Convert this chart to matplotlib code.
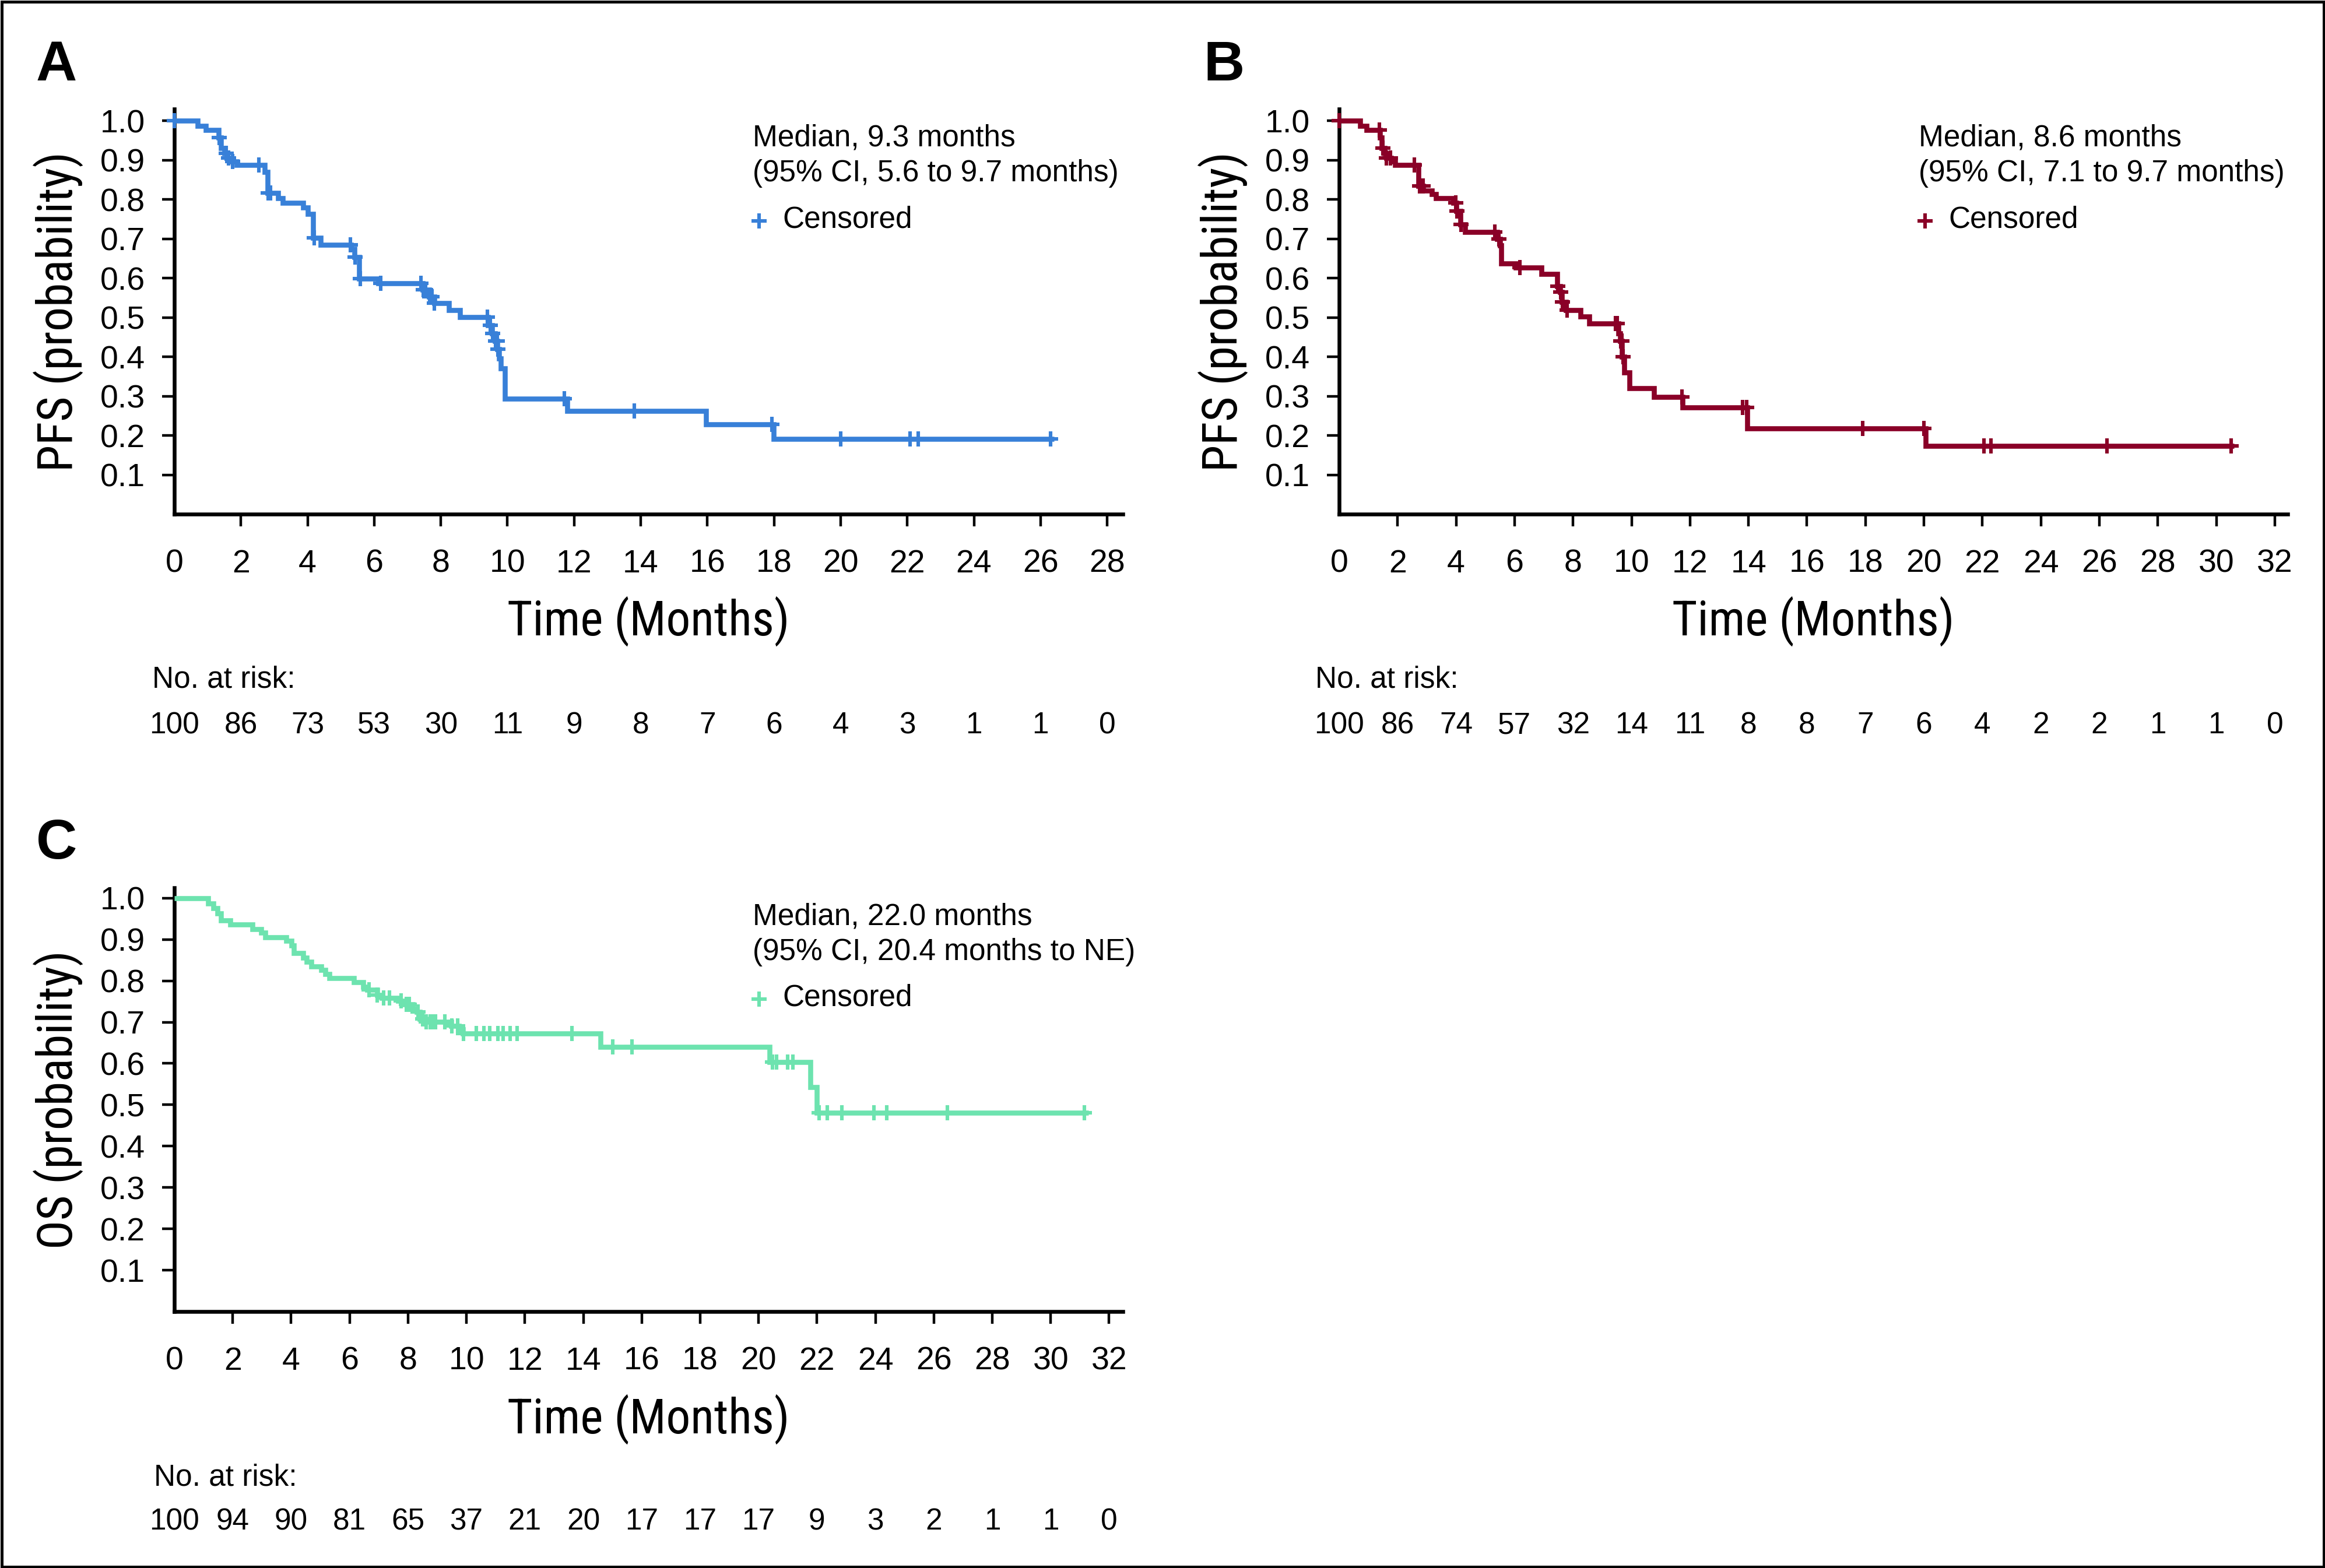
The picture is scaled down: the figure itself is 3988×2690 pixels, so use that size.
import numpy as np
import matplotlib
matplotlib.use("Agg")
import matplotlib.pyplot as plt
from matplotlib import font_manager as fm
from matplotlib.lines import Line2D
from matplotlib.patches import Rectangle
from matplotlib.transforms import blended_transform_factory

# ---------------- data ----------------
a_event_t = [0.70, 0.95, 1.33, 1.40, 1.50, 1.57, 1.72, 1.88, 2.72, 2.80, 3.12, 3.26, 3.86, 4.00,
             4.16, 4.40, 5.30, 5.40, 5.55, 6.12, 7.45, 7.65, 7.80, 8.25, 8.58, 9.42, 9.53, 9.63,
             9.70, 9.75, 9.80, 9.92, 11.80, 15.96, 17.98]
a_surv = [0.987, 0.977, 0.957, 0.930, 0.918, 0.906, 0.897, 0.887, 0.870, 0.817, 0.803, 0.791,
          0.780, 0.763, 0.703, 0.685, 0.675, 0.654, 0.598, 0.587, 0.570, 0.553, 0.536, 0.519,
          0.501, 0.480, 0.460, 0.440, 0.420, 0.396, 0.371, 0.294, 0.263, 0.228, 0.191]
a_censor = [0.0, 1.35, 1.56, 1.62, 1.75, 2.54, 2.82, 2.89, 4.20, 5.29, 5.42, 5.58, 6.20, 7.40,
            7.48, 7.54, 7.66, 7.74, 7.81, 9.39, 9.49, 9.55, 9.65, 9.69, 9.72, 11.70, 13.80,
            17.93, 20.00, 22.08, 22.33, 26.30]
a_end = 26.40
a_risk = [100, 86, 73, 53, 30, 11, 9, 8, 7, 6, 4, 3, 1, 1, 0]

b_event_t = [0.715, 0.93, 1.39, 1.45, 1.55, 1.62, 1.77, 1.92, 2.72, 2.88, 3.18, 3.30, 3.90, 4.00,
             4.15, 4.30, 5.40, 5.50, 5.55, 6.05, 6.92, 7.45, 7.55, 7.62, 7.75, 8.25, 8.56, 9.55,
             9.62, 9.68, 9.75, 9.93, 10.77, 11.75, 13.95, 20.05]
b_surv = [0.987, 0.977, 0.957, 0.930, 0.918, 0.906, 0.896, 0.887, 0.834, 0.822, 0.814, 0.803,
          0.791, 0.770, 0.737, 0.717, 0.700, 0.683, 0.638, 0.627, 0.610, 0.580, 0.565, 0.540,
          0.519, 0.502, 0.485, 0.460, 0.440, 0.400, 0.360, 0.320, 0.298, 0.271, 0.218, 0.174]
b_censor = [0.0, 1.38, 1.50, 1.62, 1.76, 2.57, 2.76, 2.87, 3.98, 4.02, 4.17, 5.33, 5.47, 6.19,
            7.47, 7.57, 7.63, 7.80, 9.46, 9.52, 9.63, 9.67, 9.71, 11.72, 13.80, 13.93, 17.90,
            19.99, 22.06, 22.29, 26.25, 30.50]
b_end = 30.60
b_risk = [100, 86, 74, 57, 32, 14, 11, 8, 8, 7, 6, 4, 2, 2, 1, 1, 0]

c_event_t = [1.16, 1.33, 1.47, 1.60, 1.91, 2.67, 2.98, 3.12, 3.83, 4.01, 4.10, 4.41, 4.54, 4.68,
             5.03, 5.17, 5.30, 6.15, 6.47, 6.60, 6.94, 7.10, 7.67, 7.84, 8.17, 8.30, 8.40, 8.60,
             9.47, 9.73, 9.87, 14.59, 20.37, 21.77, 22.00]
c_surv = [0.987, 0.976, 0.963, 0.946, 0.936, 0.925, 0.916, 0.905, 0.897, 0.885, 0.867, 0.856,
          0.846, 0.835, 0.826, 0.817, 0.807, 0.797, 0.785, 0.778, 0.766, 0.759, 0.752, 0.743,
          0.733, 0.724, 0.708, 0.701, 0.691, 0.682, 0.672, 0.640, 0.603, 0.543, 0.481]
c_censor = [6.67, 6.95, 7.17, 7.37, 7.77, 7.94, 8.04, 8.35, 8.50, 8.62, 8.77, 8.87, 8.94, 9.27,
            9.50, 9.70, 9.90, 10.33, 10.60, 10.80, 11.07, 11.26, 11.50, 11.73, 13.61, 15.01,
            15.66, 20.47, 20.61, 21.00, 21.17, 22.08, 22.36, 22.85, 23.94, 24.39, 26.46, 31.15]
c_end = 31.30
c_risk = [100, 94, 90, 81, 65, 37, 21, 20, 17, 17, 17, 9, 3, 2, 1, 1, 0]

y_ticks = [0.1, 0.2, 0.3, 0.4, 0.5, 0.6, 0.7, 0.8, 0.9, 1.0]

a_text = ["Median, 9.3 months", "(95% CI, 5.6 to 9.7 months)"]
b_text = ["Median, 8.6 months", "(95% CI, 7.1 to 9.7 months)"]
c_text = ["Median, 22.0 months", "(95% CI, 20.4 months to NE)"]

COL_A = "#3880D8"
COL_B = "#8A0027"
COL_C = "#6DE3AF"

# ---------------- fonts ----------------
names = {f.name for f in fm.fontManager.ttflist}
COND = None
for cand in ["Roboto Condensed", "Liberation Sans Narrow", "Noto Sans Condensed",
             "DejaVu Sans Condensed", "Open Sans Condensed"]:
    if cand in names:
        COND = cand
        break
REG = "Liberation Sans" if "Liberation Sans" in names else "DejaVu Sans"


def FC(size):
    if COND:
        return fm.FontProperties(family=COND, size=size)
    return fm.FontProperties(family=REG, size=size * 0.85)


def FR(size):
    return fm.FontProperties(family=REG, size=size)


# ---------------- figure ----------------
W, H = 3988, 2690
DPI = 100
fig = plt.figure(figsize=(W / DPI, H / DPI), dpi=DPI)
fig.patch.set_facecolor("white")


def fx(px):
    return px / W


def fy(py):
    return 1 - py / H


TICK_FS = 40
LEG_FS = 37
LAB_FS = 60
RISK_FS = 37
LW = 6.2
MS = 19
MEW = 4.4


def panel(x0, xend, ytop, ybot, xmax, ymax, xtick_max, ev_t, surv, cens, end, color,
          ylabel, risk, texts, letter, letter_xy, ylab_x, xlab_y, risk_lab_y, risk_y,
          leg_x, leg_ys, risk_lab_x):
    ax = fig.add_axes([fx(x0), fy(ybot), fx(xend - x0), (ybot - ytop) / H])
    ax.set_xlim(0, xmax)
    ax.set_ylim(0, ymax)
    t = np.concatenate([[0.0], ev_t, [end]])
    s = np.concatenate([[1.0], surv, [surv[-1]]])
    ax.step(t, s, where="post", color=color, lw=LW, solid_joinstyle="miter",
            solid_capstyle="butt", zorder=3)
    idx = np.searchsorted(np.array(ev_t), np.array(cens), side="right")
    cy = np.concatenate([[1.0], surv])[idx]
    ax.plot(cens, cy, ls="none", marker="+", ms=MS, mew=MEW, color=color, zorder=4,
            clip_on=False)
    for sp in ["top", "right"]:
        ax.spines[sp].set_visible(False)
    for sp in ["left", "bottom"]:
        ax.spines[sp].set_linewidth(4.7)
    xt = list(range(0, xtick_max + 1, 2))
    ax.set_xticks(xt)
    ax.set_xticklabels([str(v) for v in xt])
    ax.set_yticks(y_ticks)
    ax.set_yticklabels([f"{v:.1f}" for v in y_ticks])
    ax.tick_params(axis="both", direction="out", length=15, width=3.2)
    ax.tick_params(axis="x", pad=28)
    ax.tick_params(axis="y", pad=21)
    for lab in ax.get_xticklabels() + ax.get_yticklabels():
        lab.set_fontproperties(FR(TICK_FS))
    ax.xaxis.get_major_ticks()[0].tick1line.set_visible(False)
    # axis labels
    fig.text(fx(ylab_x), fy((ytop + ybot) / 2), ylabel, rotation=90, ha="center", va="center",
             fontproperties=FC(LAB_FS))
    fig.text(fx((x0 + xend) / 2), fy(xlab_y), "Time (Months)", ha="center", va="center",
             fontproperties=FC(LAB_FS))
    # legend text
    fig.text(fx(leg_x), fy(leg_ys[0]), texts[0], ha="left", va="center", fontproperties=FR(LEG_FS))
    fig.text(fx(leg_x), fy(leg_ys[1]), texts[1], ha="left", va="center", fontproperties=FR(LEG_FS))
    fig.add_artist(Line2D([fx(leg_x + 11)], [fy(leg_ys[2] + 2)], marker="+", ms=MS, mew=MEW,
                          color=color, transform=fig.transFigure, ls="none"))
    fig.text(fx(leg_x + 51), fy(leg_ys[2]), "Censored", ha="left", va="center",
             fontproperties=FR(LEG_FS))
    # number at risk
    fig.text(fx(risk_lab_x), fy(risk_lab_y), "No. at risk:", ha="left", va="center",
             fontproperties=FR(RISK_FS))
    tr = blended_transform_factory(ax.transData, fig.transFigure)
    for xv, n in zip(xt, risk):
        ax.text(xv, fy(risk_y), str(n), transform=tr, ha="center", va="center",
                fontproperties=FR(RISK_FS), clip_on=False)
    # panel letter
    fig.text(fx(letter_xy[0]), fy(letter_xy[1]), letter, ha="left", va="baseline",
             fontsize=70, fontweight="bold", family=REG)
    return ax


panel(299, 1926, 187, 882, 28.47, 1.030, 28, a_event_t, a_surv, a_censor, a_end, COL_A,
      "PFS (probability)", a_risk, a_text, "A", (62, 138), 100, 1066, 1166, 1245,
      1291, (237, 298, 377), 261)
panel(2297, 3924, 187, 882, 32.44, 1.030, 32, b_event_t, b_surv, b_censor, b_end, COL_B,
      "PFS (probability)", b_risk, b_text, "B", (2064, 138), 2098, 1066, 1166, 1245,
      3291, (237, 298, 377), 2256)
panel(299, 1926, 1523, 2250, 32.47, 1.025, 32, c_event_t, c_surv, c_censor, c_end, COL_C,
      "OS (probability)", c_risk, c_text, "C", (62, 1473), 100, 2435, 2535, 2611,
      1291, (1573, 1633, 1712), 264)

# outer frame
fig.add_artist(Rectangle((fx(2.5), fy(H - 2.5)), fx(W - 5), (H - 5) / H, fill=False,
                         edgecolor="black", lw=3.6, transform=fig.transFigure))

fig.savefig("out.png", dpi=DPI, facecolor="white")
